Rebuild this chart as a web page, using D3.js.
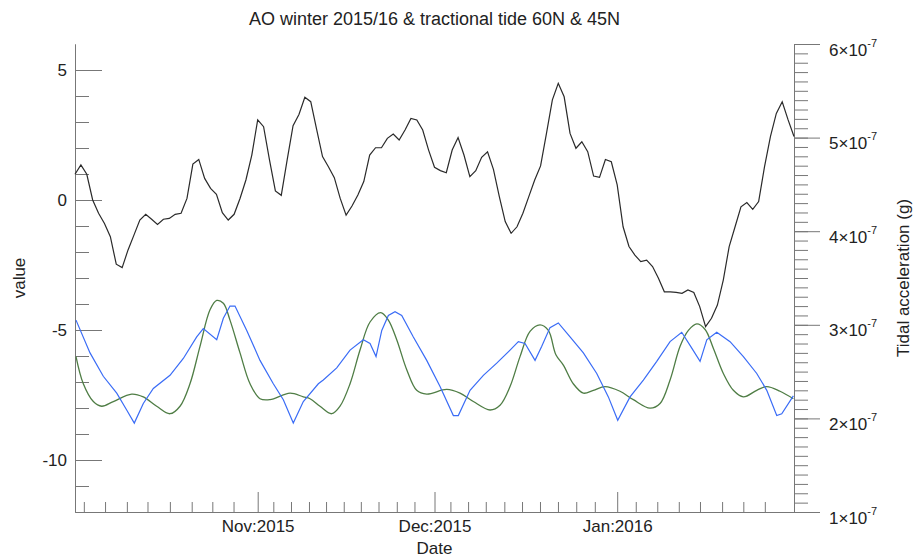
<!DOCTYPE html>
<html>
<head>
<meta charset="utf-8">
<script src="https://d3js.org/d3.v7.min.js"></script>
<style>
  body { margin: 0; background: #fff; }
  svg { font-family: "Liberation Sans", Arial, sans-serif; }
  .axis path, .axis line { stroke: #777; stroke-width: 1; }
  .axis text { fill: #222; font-size: 17px; }
</style>
</head>
<body>
<script>
// AO index, one value per day from 1 Oct 2015
var aoIndex = [
  0.99, 1.35, 0.99, 0.00, -0.51, -0.90, -1.41, -2.47, -2.60, -1.92,
  -1.35, -0.77, -0.55, -0.74, -0.94, -0.74, -0.71, -0.55, -0.51, 0.06,
  1.38, 1.56, 0.83, 0.45, 0.22, -0.49, -0.77, -0.55, 0.06, 0.77,
  1.73, 3.08, 2.82, 1.54, 0.35, 0.18, 1.54, 2.86, 3.29, 3.95,
  3.78, 2.72, 1.67, 1.28, 0.86, 0.06, -0.58, -0.23, 0.19, 0.71,
  1.73, 2.01, 2.01, 2.37, 2.54, 2.31, 2.69, 3.14, 3.08, 2.69,
  1.92, 1.26, 1.13, 1.05, 1.92, 2.40, 1.73, 0.90, 1.13, 1.64,
  1.85, 1.18, 0.13, -0.83, -1.28, -1.03, -0.51, 0.13, 0.77, 1.31,
  2.56, 3.85, 4.49, 3.97, 2.56, 1.99, 2.24, 1.86, 0.92, 0.87,
  1.56, 1.47, 0.58, -1.03, -1.79, -2.12, -2.37, -2.31, -2.56, -3.01,
  -3.53, -3.53, -3.55, -3.59, -3.46, -3.56, -4.10, -4.87, -4.55, -4.04,
  -3.08, -1.79, -1.03, -0.26, -0.10, -0.36, -0.06, 1.28, 2.44, 3.33,
  3.78, 3.08, 2.44
];

// tidal acceleration at 60N (blue), days since 1 Oct and value in 1e-7 g
var tideDays60 = [0.17, 2.55, 4.8, 7.08, 8.77, 10.06, 11.59, 13.29, 16.12, 18.38,
  20.65, 21.77, 24.05, 25.17, 26.3, 27.15, 29.14, 31.39, 33.65, 35.35,
  37.04, 38.74, 41.29, 42.13, 44.41, 46.67, 48.92, 50.06, 51.08, 52.05,
  53.17, 54.3, 55.44, 57.41, 59.68, 61.94, 64.2, 65.04, 67.03, 69.29,
  71.56, 73.82, 75.23, 76.36, 78.06, 79.2, 80.6, 82.01, 84.0, 86.26,
  88.53, 90.5, 92.09, 94.18, 96.44, 98.71, 100.97, 102.95, 104.36, 106.06,
  107.2, 108.89, 111.15, 113.41, 115.68, 117.38, 119.07, 119.92, 121.89];
var tide60 = [3.05, 2.70, 2.45, 2.27, 2.09, 1.95, 2.16, 2.32, 2.46, 2.64,
  2.87, 2.96, 2.84, 3.07, 3.20, 3.20, 2.94, 2.62, 2.37, 2.20,
  1.95, 2.18, 2.37, 2.41, 2.54, 2.73, 2.84, 2.80, 2.66, 2.94,
  3.10, 3.14, 3.10, 2.87, 2.62, 2.34, 2.03, 2.03, 2.30, 2.46,
  2.59, 2.73, 2.82, 2.80, 2.62, 2.77, 2.97, 3.02, 2.87, 2.70,
  2.48, 2.23, 1.98, 2.23, 2.41, 2.61, 2.82, 2.92, 2.78, 2.61,
  2.84, 2.92, 2.82, 2.66, 2.48, 2.30, 2.03, 2.05, 2.24];

// tidal acceleration at 45N (green)
var tideDays45 = [0.17, 1.41, 3.11, 4.53, 6.5, 9.62, 11.59, 13.86, 16.12, 17.82,
  19.51, 21.21, 22.91, 24.05, 25.17, 26.3, 28.0, 29.7, 31.39, 33.09,
  36.48, 38.74, 39.88, 41.57, 43.56, 44.97, 46.67, 48.36, 50.06, 51.88,
  53.17, 54.59, 56.29, 57.98, 59.68, 63.07, 65.33, 67.59, 70.42, 72.12,
  73.82, 75.51, 77.21, 78.91, 80.32, 81.6, 82.86, 84.55, 86.26, 87.96,
  89.94, 92.48, 94.74, 97.57, 99.27, 100.97, 102.67, 104.08, 105.51, 106.92,
  108.31, 110.01, 111.71, 113.41, 115.68, 117.38, 119.63, 121.89];
var tide45 = [2.66, 2.37, 2.18, 2.13, 2.18, 2.26, 2.23, 2.13, 2.05, 2.13,
  2.37, 2.77, 3.16, 3.26, 3.23, 3.05, 2.70, 2.37, 2.21, 2.20,
  2.27, 2.23, 2.21, 2.13, 2.05, 2.13, 2.37, 2.73, 3.03, 3.13,
  3.05, 2.84, 2.52, 2.30, 2.26, 2.31, 2.27, 2.18, 2.09, 2.14,
  2.34, 2.66, 2.93, 3.00, 2.94, 2.68, 2.57, 2.37, 2.27, 2.30,
  2.34, 2.29, 2.20, 2.11, 2.16, 2.41, 2.77, 2.94, 3.01, 2.95,
  2.75, 2.48, 2.30, 2.23, 2.30, 2.34, 2.29, 2.21];

var majorTicks = ["2015-11-01", "2015-12-01", "2016-01-01"];
// minor date ticks, days since 1 Oct
var minorTickDays = [1.5, 5.1, 8.8, 12.3, 16.1, 19.8, 23.3, 26.9,
  33.65, 36.65, 39.7, 42.6, 45.6, 48.5, 51.5, 54.6, 57.6,
  63.7, 66.7, 69.7, 72.85, 75.85, 78.9, 81.95, 85.05, 88.2,
  95.15, 98.8, 102.45, 106.05, 109.8, 113.4, 117.05];
var leftTicks = [5, 0, -5, -10];
var rightTicks = [1, 2, 3, 4, 5, 6];

var W = 916, H = 558;
var plotL = 75, plotR = 794, plotT = 44, plotB = 512;
var day0 = Date.UTC(2015, 9, 1);
function dayDate(d) { return new Date(day0 + d * 864e5); }

var x = d3.scaleUtc()
  .domain([dayDate(0), dayDate(aoIndex.length - 1)])
  .range([plotL, plotR]);
var y = d3.scaleLinear().domain([-12, 6]).range([plotB, plotT]);
var y2 = d3.scaleLinear().domain([1e-7, 6e-7]).range([plotB, plotT]);

var svg = d3.select("body").append("svg")
  .attr("width", W).attr("height", H);

// left axis
svg.append("g").attr("class", "axis")
  .attr("transform", "translate(" + plotL + ",0)")
  .call(d3.axisLeft(y).tickValues(d3.range(-11, 6)).tickSize(-14).tickSizeOuter(0).tickFormat(""));
svg.append("g").attr("class", "axis")
  .attr("transform", "translate(" + plotL + ",0)")
  .call(d3.axisLeft(y).tickValues(leftTicks).tickSize(-27).tickSizeOuter(0).tickPadding(8)
    .tickFormat(function(d) { return String(d); }));

// right axis
svg.append("g").attr("class", "axis")
  .attr("transform", "translate(" + plotR + ",0)")
  .call(d3.axisRight(y2).tickValues(d3.range(11, 60).map(function(k) { return k * 1e-8; }))
    .tickSize(14).tickSizeOuter(0).tickFormat(""));
var rax = svg.append("g").attr("class", "axis")
  .attr("transform", "translate(" + plotR + ",0)")
  .call(d3.axisRight(y2).tickValues(rightTicks.map(function(k) { return k * 1e-7; }))
    .tickSize(26).tickSizeOuter(0).tickPadding(9).tickFormat(""));
rax.selectAll(".tick").append("text")
  .attr("x", 35).attr("y", 11)
  .attr("text-anchor", "start")
  .each(function(d, i) {
    var t = d3.select(this);
    t.append("tspan").text(rightTicks[i] + "\u00d710");
    t.append("tspan").attr("dy", -9).style("font-size", "11px").text("-7");
  });

// bottom axis
svg.append("g").attr("class", "axis")
  .attr("transform", "translate(0," + plotB + ")")
  .call(d3.axisBottom(x).tickValues(minorTickDays.map(dayDate)).tickSize(-10).tickSizeOuter(0).tickFormat(""));
svg.append("g").attr("class", "axis")
  .attr("transform", "translate(0," + plotB + ")")
  .call(d3.axisBottom(x).tickValues(majorTicks.map(function(s) { return new Date(s + "T00:00:00Z"); }))
    .tickSize(-20).tickSizeOuter(0).tickPadding(8).tickFormat(d3.utcFormat("%b:%Y")));

// lines
var aoLine = d3.line()
  .x(function(d, i) { return x(dayDate(i)); })
  .y(function(d) { return y(d); });
svg.append("path").datum(aoIndex)
  .attr("d", aoLine)
  .attr("fill", "none").attr("stroke", "#2a2a2a").attr("stroke-width", 1.2);

function tideLine(days, curve) {
  return d3.line()
    .x(function(d, i) { return x(dayDate(days[i])); })
    .y(function(d) { return y2(d * 1e-7); })
    .curve(curve);
}
svg.append("path").datum(tide45)
  .attr("d", tideLine(tideDays45, d3.curveCatmullRom))
  .attr("fill", "none").attr("stroke", "#4f7d45").attr("stroke-width", 1.3);
svg.append("path").datum(tide60)
  .attr("d", tideLine(tideDays60, d3.curveLinear))
  .attr("fill", "none").attr("stroke", "#3a6cf6").attr("stroke-width", 1.2);

// titles
svg.append("text").attr("x", (plotL + plotR) / 2).attr("y", 25)
  .attr("text-anchor", "middle").style("font-size", "18px").attr("fill", "#222")
  .text("AO winter 2015/16 & tractional tide 60N & 45N");
svg.append("text").attr("x", (plotL + plotR) / 2).attr("y", 554)
  .attr("text-anchor", "middle").style("font-size", "17px").attr("fill", "#222")
  .text("Date");
svg.append("text").attr("transform", "translate(25,278) rotate(-90)")
  .attr("text-anchor", "middle").style("font-size", "17px").attr("fill", "#222")
  .text("value");
svg.append("text").attr("transform", "translate(909,278) rotate(-90)")
  .attr("text-anchor", "middle").style("font-size", "17px").attr("fill", "#222")
  .text("Tidal acceleration (g)");
</script>
</body>
</html>
